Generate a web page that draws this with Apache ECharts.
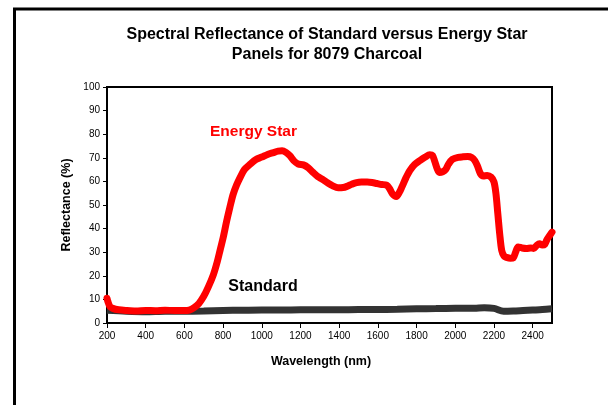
<!DOCTYPE html>
<html><head><meta charset="utf-8">
<script src="https://cdn.jsdelivr.net/npm/echarts@6/dist/echarts.min.js"></script>
<style>html,body{margin:0;padding:0;background:#fff}#c{width:608px;height:405px}</style>
</head><body><div id="c"></div>
<script>
const titleLines = ['Spectral Reflectance of Standard versus Energy Star', 'Panels for 8079 Charcoal'];
const xTitle = 'Wavelength (nm)';
const yTitle = 'Reflectance (%)';
const seriesNames = ['Energy Star', 'Standard'];

const energyX = [200,205,215,230,260,300,350,400,450,500,550,600,625,650,675,700,725,750,770,785,800,818,835,852,870,887,910,940,970,1000,1030,1060,1085,1105,1125,1145,1165,1188,1215,1240,1265,1290,1315,1340,1365,1395,1420,1440,1465,1490,1515,1545,1570,1595,1620,1645,1660,1675,1695,1712,1725,1745,1765,1790,1817,1845,1868,1882,1894,1906,1918,1935,1950,1965,1985,2015,2040,2065,2085,2101,2115,2130,2145,2165,2185,2200,2210,2220,2230,2240,2252,2265,2285,2300,2312,2325,2345,2368,2390,2405,2420,2435,2450,2462,2475,2490,2500];
const energyY = [10.5,9,7,6.2,5.6,5.3,5.1,5.3,5.2,5.4,5.3,5.3,5.5,6.5,8.3,11.3,15.5,20.5,26,31,36,43,49,54.5,58.5,61.5,65,67.3,69.3,70.3,71.4,72.2,72.8,73,72.3,70.9,68.8,67.4,67,65.8,63.8,62,60.8,59.4,58.2,57.3,57.4,57.9,58.8,59.5,59.7,59.7,59.5,59.1,58.7,58.4,57,54.8,53.6,55.5,57.8,61.5,64.6,67.2,68.8,70.3,71.3,71,68.5,65.5,63.8,64.1,65,67.3,69.3,70.2,70.4,70.5,70.1,68.8,66.5,63.3,62.3,62.5,61.8,59.8,55,46.3,37.5,30.8,28.4,27.8,27.4,27.6,30,32.2,31.8,31.6,31.8,31.6,32.8,33.6,33,33.3,35.5,37.3,38.5];

const standardX = [200,300,400,500,600,700,800,900,1000,1100,1200,1300,1400,1500,1600,1700,1800,1900,2000,2100,2150,2200,2250,2300,2350,2400,2450,2500];
const standardY = [5.4,5.0,4.8,5.0,5.0,5.1,5.3,5.4,5.5,5.5,5.6,5.6,5.6,5.7,5.7,5.8,6.0,6.1,6.2,6.3,6.5,6.2,5.0,5.1,5.3,5.5,5.7,6.0];

const FONT = '"Liberation Sans", Arial, sans-serif';
const chart = echarts.init(document.getElementById('c'), null, {renderer: 'canvas'});
chart.setOption({
  animation: false,
  backgroundColor: '#fff',
  grid: {left: 107, right: 56, top: 87, bottom: 82, show: true, borderColor: '#000', borderWidth: 2, backgroundColor: 'transparent'},
  xAxis: {
    type: 'value', min: 200, max: 2500, interval: 200,
    axisLine: {lineStyle: {color: '#000', width: 2}},
    axisTick: {show: true, length: 5, lineStyle: {color: '#000', width: 1}},
    axisLabel: {color: '#000', fontSize: 10, fontFamily: FONT, margin: 8, showMaxLabel: false, formatter: v => String(v)},
    splitLine: {show: false}
  },
  yAxis: {
    type: 'value', min: 0, max: 100, interval: 10,
    axisLine: {show: true, lineStyle: {color: '#000', width: 2}},
    axisTick: {show: true, length: 4, lineStyle: {color: '#000', width: 1}},
    axisLabel: {color: '#000', fontSize: 10, fontFamily: FONT, margin: 7},
    splitLine: {show: false}
  },
  series: [
    {name: seriesNames[1], type: 'line', smooth: 0.3, showSymbol: false, z: 2,
     lineStyle: {color: '#333333', width: 7}, data: standardX.map((x, i) => [x, standardY[i]])},
    {name: seriesNames[0], type: 'line', smooth: 0.3, showSymbol: false, z: 3,
     lineStyle: {color: '#ff0000', width: 7, cap: 'round', join: 'round'}, data: energyX.map((x, i) => [x, energyY[i]])}
  ],
  graphic: [
    {type: 'polyline', shape: {points: [[14.5, 405], [14.5, 9], [608, 9]]}, style: {stroke: '#000', lineWidth: 3, fill: null}, silent: true},
    {type: 'text', x: 327, y: 35, style: {text: titleLines[0], fill: '#000', font: 'bold 16px ' + FONT, textAlign: 'center', textVerticalAlign: 'middle'}},
    {type: 'text', x: 327, y: 55, style: {text: titleLines[1], fill: '#000', font: 'bold 16px ' + FONT, textAlign: 'center', textVerticalAlign: 'middle'}},
    {type: 'text', x: 321, y: 362, style: {text: xTitle, fill: '#000', font: 'bold 12.5px ' + FONT, textAlign: 'center', textVerticalAlign: 'middle'}},
    {type: 'text', x: 67, y: 205, rotation: Math.PI / 2, style: {text: yTitle, fill: '#000', font: 'bold 12.5px ' + FONT, textAlign: 'center', textVerticalAlign: 'middle'}},
    {type: 'text', x: 253.5, y: 131.5, style: {text: seriesNames[0], fill: '#ff0000', font: 'bold 15.5px ' + FONT, textAlign: 'center', textVerticalAlign: 'middle'}},
    {type: 'text', x: 263, y: 287, style: {text: seriesNames[1], fill: '#000', font: 'bold 16px ' + FONT, textAlign: 'center', textVerticalAlign: 'middle'}}
  ]
});
</script></body></html>
